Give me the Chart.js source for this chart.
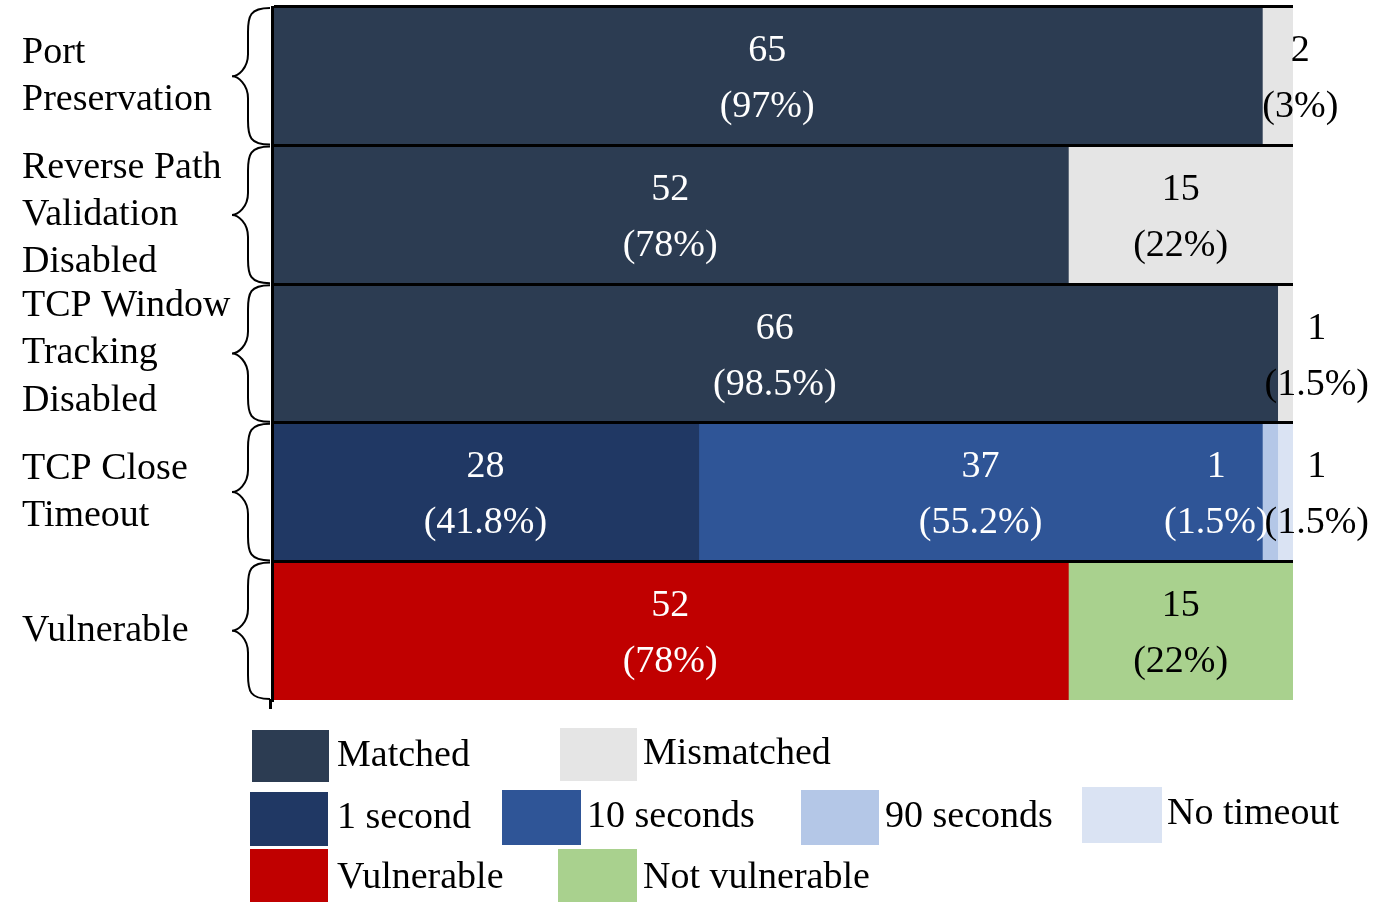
<!DOCTYPE html>
<html>
<head>
<meta charset="utf-8">
<script src="https://cdn.jsdelivr.net/npm/chart.js@4.4.1/dist/chart.umd.min.js"></script>
<style>
  html, body { margin: 0; padding: 0; background: #ffffff; }
  #wrap { width: 1373px; height: 902px; }
</style>
</head>
<body>
<div id="wrap"><canvas id="chart" width="1373" height="902"></canvas></div>
<script>
// Row labels (multi-line)
const categories = [
  ['Port', 'Preservation'],
  ['Reverse Path', 'Validation', 'Disabled'],
  ['TCP Window', 'Tracking', 'Disabled'],
  ['TCP Close', 'Timeout'],
  ['Vulnerable']
];

// Share of each row (percent) and the matching counts
const matchedPct        = [97, 78, 98.5, null, null];
const matchedCount      = [65, 52, 66, null, null];
const mismatchedPct     = [3, 22, 1.5, null, null];
const mismatchedCount   = [2, 15, 1, null, null];
const oneSecondPct      = [null, null, null, 41.8, null];
const oneSecondCount    = [null, null, null, 28, null];
const tenSecondsPct     = [null, null, null, 55.2, null];
const tenSecondsCount   = [null, null, null, 37, null];
const ninetySecondsPct  = [null, null, null, 1.5, null];
const ninetySecondsCount= [null, null, null, 1, null];
const noTimeoutPct      = [null, null, null, 1.5, null];
const noTimeoutCount    = [null, null, null, 1, null];
const vulnerablePct     = [null, null, null, null, 78];
const vulnerableCount   = [null, null, null, null, 52];
const notVulnerablePct  = [null, null, null, null, 22];
const notVulnerableCount= [null, null, null, null, 15];

const SERIF = "'Liberation Serif', 'Times New Roman', serif";

const datasets = [
  { label: 'Matched',        data: matchedPct,       counts: matchedCount,       backgroundColor: '#2c3c52', textColor: '#ffffff' },
  { label: 'Mismatched',     data: mismatchedPct,    counts: mismatchedCount,    backgroundColor: '#e5e5e5', textColor: '#000000' },
  { label: '1 second',       data: oneSecondPct,     counts: oneSecondCount,     backgroundColor: '#203864', textColor: '#ffffff' },
  { label: '10 seconds',     data: tenSecondsPct,    counts: tenSecondsCount,    backgroundColor: '#2f5597', textColor: '#ffffff' },
  { label: '90 seconds',     data: ninetySecondsPct, counts: ninetySecondsCount, backgroundColor: '#b4c7e7', textColor: '#000000' },
  { label: 'No timeout',     data: noTimeoutPct,     counts: noTimeoutCount,     backgroundColor: '#dae3f3', textColor: '#000000' },
  { label: 'Vulnerable',     data: vulnerablePct,    counts: vulnerableCount,    backgroundColor: '#c00000', textColor: '#ffffff' },
  { label: 'Not vulnerable', data: notVulnerablePct, counts: notVulnerableCount, backgroundColor: '#a9d18e', textColor: '#000000' }
];

// Legend placement: [boxX, boxY, boxW, boxH, textX, baselineY]
const legendSlots = [
  [252, 730, 77, 52, 337, 766],
  [560, 728, 77, 53, 643, 764],
  [250, 792, 78, 54, 337, 828],
  [502, 790, 79, 55, 587, 827],
  [801, 790, 78, 55, 885, 827],
  [1082, 787, 80, 56, 1167, 824],
  [250, 849, 78, 53, 337, 888],
  [558, 849, 79, 53, 643, 888]
];

// Count + percentage labels inside each segment
const segmentLabels = {
  id: 'segmentLabels',
  afterDatasetsDraw(chart) {
    const ctx = chart.ctx;
    const maxRight = chart.width - 4;
    ctx.save();
    ctx.font = '38px ' + SERIF;
    ctx.textAlign = 'center';
    ctx.textBaseline = 'alphabetic';
    for (let row = 0; row < categories.length; row++) {
      const items = [];
      const segs = [];
      chart.data.datasets.forEach((ds, di) => {
        const v = ds.data[row];
        if (v === null || v === undefined) return;
        const bar = chart.getDatasetMeta(di).data[row];
        const x0 = Math.min(bar.x, bar.base), x1 = Math.max(bar.x, bar.base);
        segs.push({ x0, x1, color: ds.textColor });
        const l1 = String(ds.counts[row]);
        const l2 = '(' + v + '%)';
        const half = Math.max(ctx.measureText(l1).width, ctx.measureText(l2).width) / 2;
        items.push({ l1, l2, half, x0, cx: Math.max((x0 + x1) / 2, x0 + half), cy: bar.y });
      });
      // place right to left so narrow segments keep readable labels
      let limit = maxRight;
      for (let k = items.length - 1; k >= 0; k--) {
        const it = items[k];
        it.cx = Math.min(it.cx, limit - it.half);
        limit = it.cx - it.half + 4;
      }
      items.forEach(it => {
        const under = segs.find(s => it.cx >= s.x0 && it.cx <= s.x1);
        ctx.fillStyle = under ? under.color : '#000000';
        ctx.fillText(it.l1, it.cx, it.cy - 15);
        ctx.fillText(it.l2, it.cx, it.cy + 41);
      });
    }
    ctx.restore();
  }
};

// Curly braces beside each row and a short axis extension
const braces = {
  id: 'braces',
  afterDraw(chart) {
    const ctx = chart.ctx;
    const y = chart.scales.y;
    const area = chart.chartArea;
    const n = categories.length;
    const band = (area.bottom - area.top) / n;
    const xr = area.left - 2;
    const xc = area.left - 24;
    const xt = area.left - 40;
    ctx.save();
    ctx.strokeStyle = '#000';
    ctx.lineWidth = 2;
    for (let i = 0; i < n; i++) {
      const mid = y.getPixelForValue(i);
      const top = mid - band / 2 + 1;
      const bot = mid + band / 2 - 1;
      ctx.beginPath();
      ctx.moveTo(xr, top);
      ctx.bezierCurveTo(xc + 2, top, xc, top + 8, xc, top + 24);
      ctx.lineTo(xc, mid - 22);
      ctx.bezierCurveTo(xc, mid - 8, xt + 6, mid, xt, mid);
      ctx.bezierCurveTo(xt + 6, mid, xc, mid + 8, xc, mid + 22);
      ctx.lineTo(xc, bot - 24);
      ctx.bezierCurveTo(xc, bot - 8, xc + 2, bot, xr, bot);
      ctx.stroke();
    }
    ctx.lineWidth = 3;
    ctx.beginPath();
    ctx.moveTo(area.left - 1.5, area.bottom - 1);
    ctx.lineTo(area.left - 1.5, area.bottom + 9);
    ctx.stroke();
    ctx.restore();
  }
};

// Legend laid out in fixed slots
const slotLegend = {
  id: 'slotLegend',
  afterDraw(chart) {
    const ctx = chart.ctx;
    ctx.save();
    ctx.font = '38px ' + SERIF;
    ctx.textAlign = 'left';
    ctx.textBaseline = 'alphabetic';
    chart.data.datasets.forEach((ds, i) => {
      const s = legendSlots[i];
      ctx.fillStyle = ds.backgroundColor;
      ctx.fillRect(s[0], s[1], s[2], s[3]);
      ctx.fillStyle = '#000';
      ctx.fillText(ds.label, s[4], s[5]);
    });
    ctx.restore();
  }
};

new Chart(document.getElementById('chart'), {
  type: 'bar',
  data: { labels: categories, datasets: datasets.map(d => Object.assign({
    borderWidth: 0, barPercentage: 1, categoryPercentage: 1
  }, d)) },
  options: {
    indexAxis: 'y',
    responsive: false,
    animation: false,
    layout: { padding: { top: 7, left: 22, right: 80, bottom: 202 } },
    plugins: { legend: { display: false }, tooltip: { enabled: false } },
    scales: {
      x: { stacked: true, min: 0, max: 100, display: false },
      y: {
        stacked: true,
        offset: true,
        afterFit(scale) {
          scale.width = 250;
          scale.paddingTop = 0;
          scale.paddingBottom = 0;
        },
        grid: {
          z: 1,
          offset: true,
          drawTicks: false,
          tickLength: 0,
          lineWidth: 3,
          color: (c) => c.type === 'tick' ? '#000000' : 'rgba(0,0,0,0)'
        },
        border: { display: true, color: '#000000', width: 3, z: 1 },
        ticks: {
          autoSkip: false,
          crossAlign: 'far',
          padding: 0,
          color: '#000000',
          font: { family: SERIF, size: 38, lineHeight: 1.24 }
        }
      }
    }
  },
  plugins: [segmentLabels, braces, slotLegend]
});
</script>
</body>
</html>
